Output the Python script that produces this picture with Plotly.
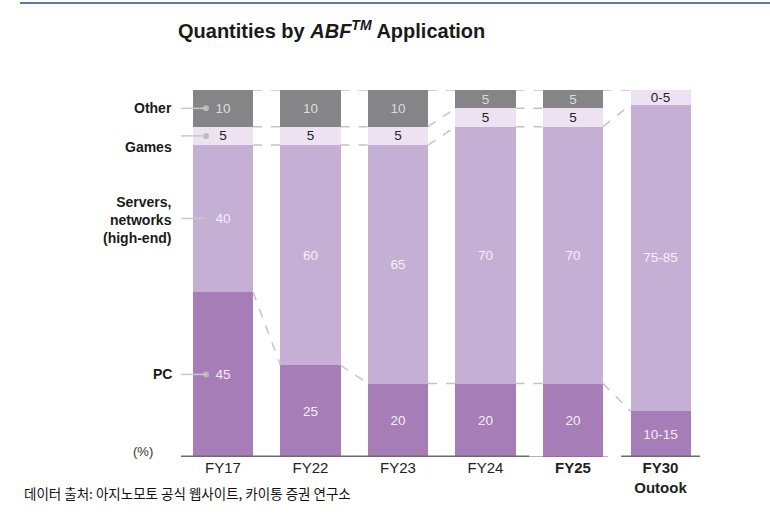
import plotly.graph_objects as go

# ---------------------------------------------------------------------
# data (share of ABF quantities, %)
# ---------------------------------------------------------------------
years = ["FY17", "FY22", "FY23", "FY24", "<b>FY25</b>", "<b>FY30<br>Outook</b>"]

pc_vals = [45, 25, 20, 20, 20, 12.5]
server_vals = [40, 60, 65, 70, 70, 83.5]
games_vals = [5, 5, 5, 5, 5, 4]
other_vals = [10, 10, 10, 5, 5, 0]

pc_text = ["45", "25", "20", "20", "20", "10-15"]
server_text = ["40", "60", "65", "70", "70", "75-85"]
games_text = ["5", "5", "5", "5", "5", "0-5"]
other_text = ["10", "10", "10", "5", "5", ""]

series_names = ["PC", "Servers,<br>networks<br>(high-end)", "Games", "Other"]

# ---------------------------------------------------------------------
# geometry helpers (body margin removed in the page, see write_html)
# ---------------------------------------------------------------------
W, H = 770, 516
ML, MR, MT = 181, 66, 90
MB = H - 457.5
PW, PH = W - ML - MR, H - MT - MB
BAR_W = 0.686
XR = [-0.48, 5.497]


def px_x(p):
    return (p - ML) / PW


def px_y(p):
    return (H - MB - p) / PH


positions = list(range(len(years)))

fig = go.Figure()

layers = [
    (pc_vals, pc_text, "#a67db7", "#f3eef6"),
    (server_vals, server_text, "#c5afd4", "#f6f1f8"),
    (games_vals, games_text, "#ece2f1", "#222222"),
    (other_vals, other_text, "#858587", "#dcdcdc"),
]

for (vals, txt, col, tcol), name in zip(layers, series_names):
    fig.add_trace(go.Bar(
        x=positions, y=vals, width=BAR_W,
        name=name.replace("<br>", " "),
        marker=dict(color=col, line=dict(width=0)),
        text=txt, textposition="inside", insidetextanchor="middle",
        textangle=0,
        textfont=dict(color=tcol, size=13.5, family="Liberation Sans, Arial"),
        showlegend=False, hoverinfo="skip",
    ))

# dashed connectors between neighbouring bars
shapes = []
all_vals = [pc_vals, server_vals, games_vals, other_vals]
for i in range(len(years) - 1):
    cum_a, cum_b = 0, 0
    for k, vals in enumerate(all_vals):
        cum_a += vals[i]
        cum_b += vals[i + 1]
        last = k == len(all_vals) - 1
        if not last and (all_vals[k + 1][i] == 0 or all_vals[k + 1][i + 1] == 0):
            continue
        shapes.append(dict(
            type="line", xref="x", yref="y",
            x0=i + BAR_W / 2, x1=i + 1 - BAR_W / 2, y0=cum_a, y1=cum_b,
            line=dict(color="#c4c4c4", width=1.5, dash="dash"),
        ))

# baseline (lighter under FY25)
shapes += [
    dict(type="line", xref="x", yref="y", x0=XR[0], x1=3.5, y0=0, y1=0,
         line=dict(color="#6b6b6b", width=3)),
    dict(type="line", xref="x", yref="y", x0=3.5, x1=4.4, y0=0, y1=0,
         line=dict(color="#6b6b6b", width=1.2)),
    dict(type="line", xref="x", yref="y", x0=4.55, x1=5.45, y0=0, y1=0,
         line=dict(color="#6b6b6b", width=3)),
]

# top rule
shapes.append(dict(type="line", xref="paper", yref="paper",
                   x0=px_x(20), x1=px_x(770), y0=px_y(3), y1=px_y(3),
                   line=dict(color="#1f4e8c", width=1.5)))

# left-side category callouts, placed at the FY17 band centres
centres = []
cum = 0
for vals in all_vals:
    centres.append(cum + vals[0] / 2)
    cum += vals[0]

label_offsets = [0, -0.5, -3, 0]
dot_x = -0.194
for c in centres:
    shapes.append(dict(type="line", xref="x", yref="y",
                       x0=-0.526, x1=dot_x, y0=c, y1=c,
                       line=dict(color="#c8c8c8", width=1.5)))

fig.add_trace(go.Scatter(
    x=[dot_x] * len(centres), y=centres, mode="markers",
    marker=dict(color="#b9b9b9", size=6),
    showlegend=False, hoverinfo="skip", cliponaxis=False,
))

annotations = []
for name, c, off in zip(series_names, centres, label_offsets):
    annotations.append(dict(
        x=px_x(174), y=(c + off) / 100, xref="paper", yref="paper",
        text="<b>" + name + "</b>",
        showarrow=False, xanchor="right", yanchor="middle", align="right",
        font=dict(size=14, color="#1a1a1a", family="Liberation Sans, Arial"),
    ))

annotations.append(dict(
    x=px_x(155), y=px_y(452), xref="paper", yref="paper", text="(%)",
    showarrow=False, xanchor="right", yanchor="middle",
    font=dict(size=13, color="#333333", family="Liberation Sans, Arial"),
))

annotations.append(dict(
    x=px_x(22), y=px_y(494), xref="paper", yref="paper",
    text="데이터 출처: 아지노모토 공식 웹사이트, 카이통 증권 연구소",
    showarrow=False, xanchor="left", yanchor="middle",
    font=dict(size=13.5, color="#111111", family="Noto Sans CJK KR"),
))

fig.update_layout(
    width=W, height=H,
    margin=dict(l=ML, r=MR, t=MT, b=MB),
    barmode="stack",
    plot_bgcolor="white", paper_bgcolor="white",
    title=dict(
        text="<b>Quantities by <i>ABF<sup>TM</sup></i> Application</b>",
        x=178 / W, xanchor="left", y=1 - 31 / H, yanchor="middle",
        font=dict(size=20, color="#1a1a1a", family="Liberation Sans, Arial"),
    ),
    xaxis=dict(
        range=XR, tickvals=positions, ticktext=years,
        showgrid=False, zeroline=False, showline=False, ticks="",
        tickfont=dict(size=15, color="#222222", family="Liberation Sans, Arial"),
    ),
    yaxis=dict(range=[0, 100], visible=False),
    shapes=shapes,
    annotations=annotations,
    uniformtext=dict(minsize=12, mode="show"),
)

fig.write_html("out.html", config={"displayModeBar": False},
               post_script="document.body.style.margin='0px';")
